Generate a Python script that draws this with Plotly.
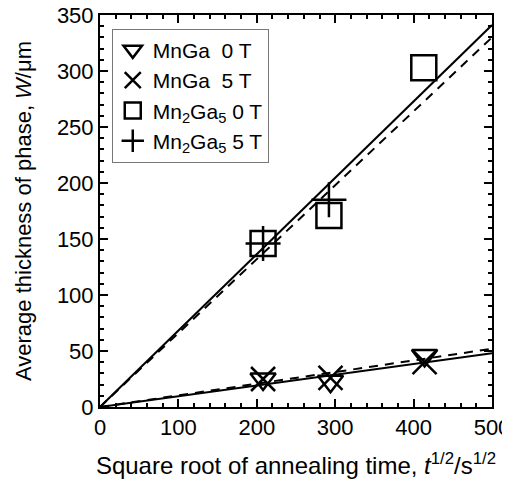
import plotly.graph_objects as go

# Data
x_t = [208, 294, 414]
mnga_0t = [25, 23, 46]
mnga_5t = [25, 26, 40]
x_m25_0t = [208, 292, 413]
mn2ga5_0t = [146, 171, 303]
x_m25_5t = [208, 292]
mn2ga5_5t = [146, 185]

fit_x = [0, 500]
fit_mn2ga5_0t = [0, 341]
fit_mn2ga5_5t = [0, 330]
fit_mnga_0t = [0, 48]
fit_mnga_5t = [0, 52]

FONT = "Liberation Sans, Arial, Helvetica, sans-serif"
BLACK = "black"

fig = go.Figure()

# fit lines
fig.add_trace(go.Scatter(x=fit_x, y=fit_mn2ga5_0t, mode="lines",
                         line=dict(color=BLACK, width=2), showlegend=False))
fig.add_trace(go.Scatter(x=fit_x, y=fit_mn2ga5_5t, mode="lines",
                         line=dict(color=BLACK, width=2, dash="9px,7px"), showlegend=False))
fig.add_trace(go.Scatter(x=fit_x, y=fit_mnga_0t, mode="lines",
                         line=dict(color=BLACK, width=2), showlegend=False))
fig.add_trace(go.Scatter(x=fit_x, y=fit_mnga_5t, mode="lines",
                         line=dict(color=BLACK, width=2, dash="9px,7px"), showlegend=False))

# markers
fig.add_trace(go.Scatter(x=x_t, y=mnga_0t, mode="markers", name="MnGa\u00a0 0 T",
                         marker=dict(symbol="triangle-down-open", size=22,
                                     color=BLACK, line=dict(width=2.5, color=BLACK))))
fig.add_trace(go.Scatter(x=x_t, y=mnga_5t, mode="markers", name="MnGa\u00a0 5 T",
                         marker=dict(symbol="x-thin-open", size=24,
                                     color=BLACK, line=dict(width=2.5, color=BLACK))))
fig.add_trace(go.Scatter(x=x_m25_0t, y=mn2ga5_0t, mode="markers",
                         name="Mn<sub>2</sub>Ga<sub>5</sub> 0 T",
                         marker=dict(symbol="square-open", size=25,
                                     color=BLACK, line=dict(width=2.5, color=BLACK))))
fig.add_trace(go.Scatter(x=x_m25_5t, y=mn2ga5_5t, mode="markers",
                         name="Mn<sub>2</sub>Ga<sub>5</sub> 5 T",
                         marker=dict(symbol="cross-thin-open", size=25,
                                     color=BLACK, line=dict(width=2.5, color=BLACK))))

axis_common = dict(
    showgrid=False, zeroline=False, showline=True, linecolor=BLACK, linewidth=2,
    mirror="allticks", ticks="inside", tickcolor=BLACK, tickwidth=1.5,
    tickfont=dict(family=FONT, size=22, color=BLACK),
    automargin=False, ticklabeloverflow="allow",
)

fig.update_xaxes(range=[0, 500], dtick=100, ticklen=8,
                 minor=dict(dtick=20, ticks="inside", ticklen=4, tickcolor=BLACK, tickwidth=1.5),
                 title=dict(text="Square root of annealing time, <i>t</i><sup>1/2</sup>/s<sup>1/2</sup>",
                            font=dict(family=FONT, size=24, color=BLACK), standoff=18),
                 **axis_common)
fig.update_yaxes(range=[0, 350], dtick=50, ticklen=8,
                 minor=dict(dtick=10, ticks="inside", ticklen=4, tickcolor=BLACK, tickwidth=1.5),
                 title=dict(text="Average thickness of phase, <i>W</i>/\u03bcm",
                            font=dict(family=FONT, size=22, color=BLACK), standoff=19),
                 **axis_common)

fig.update_layout(
    width=502, height=479,
    margin=dict(l=92, r=18, t=7, b=80, autoexpand=False),
    paper_bgcolor="white", plot_bgcolor="white",
    font=dict(family=FONT, size=22, color=BLACK),
    legend=dict(x=0.03, y=0.965, xanchor="left", yanchor="top",
                bgcolor="white", bordercolor="#777", borderwidth=1,
                font=dict(family=FONT, size=21, color=BLACK),
                tracegroupgap=0, itemwidth=30),
)

fig.write_html("out.html")
